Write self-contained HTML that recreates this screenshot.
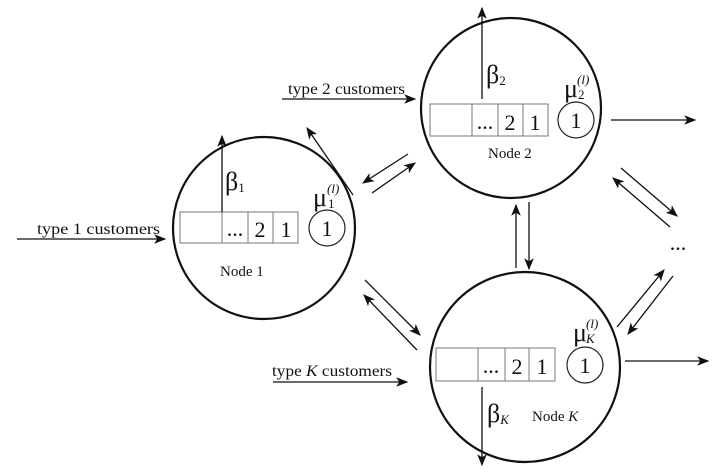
<!DOCTYPE html>
<html><head><meta charset="utf-8"><style>
html,body{margin:0;padding:0;background:#fff;}
svg{display:block;}
text{font-family:"Liberation Serif",serif;fill:#111;}
</style></head><body>
<svg width="726" height="475" viewBox="0 0 726 475" xmlns="http://www.w3.org/2000/svg">
<defs>
<marker id="b" viewBox="0 0 10 10" refX="9" refY="5" markerWidth="12" markerHeight="12" markerUnits="userSpaceOnUse" orient="auto"><path d="M0,1 L10,5 L0,9 L2.5,5z" fill="#111"/></marker>
</defs>
<g fill="none" stroke="#111" stroke-width="2.2">
<circle cx="264" cy="228" r="91"/>
<circle cx="511" cy="108" r="90"/>
<circle cx="525" cy="367" r="95"/>
</g>
<g fill="none" stroke="#777" stroke-width="1">
<rect x="180" y="212" width="118" height="31"/>
<line x1="222" y1="212" x2="222" y2="243"/><line x1="248" y1="212" x2="248" y2="243"/><line x1="273" y1="212" x2="273" y2="243"/>
<rect x="430" y="104" width="118" height="32"/>
<line x1="472" y1="104" x2="472" y2="136"/><line x1="498" y1="104" x2="498" y2="136"/><line x1="523" y1="104" x2="523" y2="136"/>
<rect x="436" y="348" width="119" height="33"/>
<line x1="478" y1="348" x2="478" y2="381"/><line x1="505" y1="348" x2="505" y2="381"/><line x1="529" y1="348" x2="529" y2="381"/>
</g>
<g fill="none" stroke="#222" stroke-width="1.2">
<circle cx="327" cy="228" r="18"/>
<circle cx="576" cy="120" r="18"/>
<circle cx="585" cy="365" r="18"/>
</g>
<g stroke="#111" stroke-width="1.3" fill="none">
<line x1="222" y1="212" x2="222" y2="136" marker-end="url(#b)"/>
<line x1="482" y1="99" x2="482" y2="8" marker-end="url(#b)"/>
<line x1="482" y1="387" x2="482" y2="465" marker-end="url(#b)"/>
<line x1="17" y1="239" x2="165" y2="239" marker-end="url(#b)"/>
<line x1="282" y1="99" x2="415" y2="99" marker-end="url(#b)"/>
<line x1="273" y1="382" x2="407" y2="382" marker-end="url(#b)"/>
<line x1="611" y1="120" x2="695" y2="120" marker-end="url(#b)"/>
<line x1="625" y1="361" x2="708" y2="361" marker-end="url(#b)"/>
<line x1="353" y1="195" x2="307" y2="128" marker-end="url(#b)"/>
<line x1="408" y1="154" x2="363" y2="183" marker-end="url(#b)"/>
<line x1="372" y1="193" x2="415" y2="163" marker-end="url(#b)"/>
<line x1="516" y1="268" x2="516" y2="205" marker-end="url(#b)"/>
<line x1="529" y1="202" x2="529" y2="269" marker-end="url(#b)"/>
<line x1="621" y1="168" x2="677" y2="216" marker-end="url(#b)"/>
<line x1="670" y1="227" x2="613" y2="178" marker-end="url(#b)"/>
<line x1="617" y1="327" x2="664" y2="270" marker-end="url(#b)"/>
<line x1="673" y1="276" x2="628" y2="334" marker-end="url(#b)"/>
<line x1="365" y1="280" x2="420" y2="335" marker-end="url(#b)"/>
<line x1="417" y1="350" x2="364" y2="295" marker-end="url(#b)"/>
</g>
<g font-size="16">
<text x="37" y="234" textLength="123" lengthAdjust="spacingAndGlyphs">type 1 customers</text>
<text x="288" y="94" textLength="117" lengthAdjust="spacingAndGlyphs">type 2 customers</text>
<text x="272" y="376" textLength="120" lengthAdjust="spacingAndGlyphs">type <tspan font-style="italic">K</tspan> customers</text>
<text x="220" y="276" font-size="15">Node 1</text>
<text x="488" y="158" font-size="15">Node 2</text>
<text x="532" y="421" font-size="15">Node <tspan font-style="italic">K</tspan></text>
</g>
<g font-size="26">
<text x="225" y="190">β<tspan font-size="13" dy="2">1</tspan></text>
<text x="486" y="83">β<tspan font-size="13" dy="2">2</tspan></text>
<text x="487" y="422">β<tspan font-size="13" font-style="italic" dy="2">K</tspan></text>
<text x="313" y="206">μ</text>
<text x="564" y="97">μ</text>
<text x="573" y="341">μ</text>
</g>
<g font-size="13">
<text x="328" y="208">1</text><text x="327" y="193" font-style="italic">(l)</text>
<text x="578" y="99">2</text><text x="577" y="84" font-style="italic">(l)</text>
<text x="586" y="343" font-style="italic">K</text><text x="586" y="328" font-style="italic">(l)</text>
</g>
<g font-size="22" text-anchor="middle">
<text x="235" y="236">...</text>
<text x="260" y="237">2</text><text x="286" y="237">1</text>
<text x="485" y="129">...</text>
<text x="510" y="130">2</text><text x="535" y="130">1</text>
<text x="491" y="373">...</text>
<text x="517" y="374">2</text><text x="542" y="374">1</text>
<text x="327" y="236">1</text>
<text x="576" y="128">1</text>
<text x="585" y="373">1</text>
<text x="678" y="250">...</text>
</g>
</svg>
</body></html>
